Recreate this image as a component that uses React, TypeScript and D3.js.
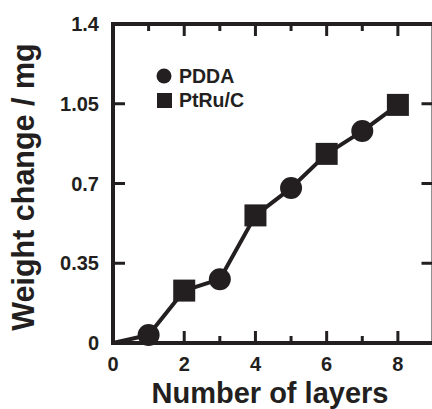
import React, { useEffect, useRef } from 'react';
import * as d3 from 'd3';

// data
const layers = [0, 1, 2, 3, 4, 5, 6, 7, 8];
const weightChange = [0, 0.035, 0.23, 0.28, 0.56, 0.68, 0.83, 0.93, 1.045];
const pddaLayers = [1, 3, 5, 7];
const ptruLayers = [2, 4, 6, 8];

const xMajorTicks = [2, 4, 6, 8];
const xMinorTicks = [1, 3, 5, 7];
const xTickLabels = ['0', '2', '4', '6', '8'];
const yTicks = [0.35, 0.7, 1.05];
const yTickLabels = ['0', '0.35', '0.7', '1.05', '1.4'];

const W = 432;
const H = 409;
const INK = '#231f20';
const FONT = '"Liberation Sans", Arial, sans-serif';

const App = () => {
  const svgRef = useRef<SVGSVGElement>(null);

  useEffect(() => {
    const svg = d3.select(svgRef.current);
    svg.selectAll('*').remove();

    const x = d3.scaleLinear().domain([0, 9]).range([113, 433.5]);
    const y = d3.scaleLinear().domain([0, 1.4]).range([343, 24]);

    const pts = layers.map((l, i) => ({ l, w: weightChange[i] }));
    const valueAt = (l) => weightChange[layers.indexOf(l)];

    // frame
    const frame = svg.append('g').attr('stroke', INK).attr('stroke-width', 4).attr('fill', 'none');
    frame.append('rect')
      .attr('x', x(0)).attr('y', y(1.4))
      .attr('width', x(9) - x(0)).attr('height', y(0) - y(1.4));

    // ticks, all pointing inward
    const ticks = svg.append('g').attr('stroke', INK).attr('stroke-width', 3);
    const xt = [
      ...xMajorTicks.map(v => ({ v, len: 12 })),
      ...xMinorTicks.map(v => ({ v, len: 7 })),
    ];
    ticks.selectAll('.xb').data(xt).enter().append('line')
      .attr('x1', d => x(d.v)).attr('x2', d => x(d.v))
      .attr('y1', y(0)).attr('y2', d => y(0) - d.len);
    ticks.selectAll('.xt').data(xt).enter().append('line')
      .attr('x1', d => x(d.v)).attr('x2', d => x(d.v))
      .attr('y1', y(1.4)).attr('y2', d => y(1.4) + d.len);
    ticks.selectAll('.yl').data(yTicks).enter().append('line')
      .attr('x1', x(0)).attr('x2', x(0) + 12)
      .attr('y1', d => y(d)).attr('y2', d => y(d));
    ticks.selectAll('.yr').data(yTicks).enter().append('line')
      .attr('x1', x(9)).attr('x2', x(9) - 12)
      .attr('y1', d => y(d)).attr('y2', d => y(d));

    // tick labels
    const labels = svg.append('g')
      .attr('font-family', FONT).attr('font-weight', 'bold').attr('font-size', 20).attr('fill', INK);
    labels.selectAll('.xl').data(xTickLabels).enter().append('text')
      .attr('x', d => x(+d)).attr('y', 371)
      .attr('text-anchor', 'middle')
      .text(d => d);
    labels.selectAll('.yl').data(yTickLabels).enter().append('text')
      .attr('x', 99).attr('y', d => y(+d) + 7)
      .attr('text-anchor', 'end')
      .text(d => d);

    // axis titles
    svg.append('text')
      .attr('x', 270).attr('y', 403)
      .attr('text-anchor', 'middle')
      .attr('font-family', FONT).attr('font-weight', 'bold').attr('font-size', 29).attr('fill', INK)
      .text('Number of layers');
    svg.append('text')
      .attr('transform', 'translate(34,187) rotate(-90)')
      .attr('text-anchor', 'middle')
      .attr('font-family', FONT).attr('font-weight', 'bold').attr('font-size', 30.5).attr('fill', INK)
      .text('Weight change / mg');

    // the connecting line
    const line = d3.line<{ l: number; w: number }>()
      .x(d => x(d.l))
      .y(d => y(d.w));
    svg.append('path')
      .datum(pts)
      .attr('d', line)
      .attr('fill', 'none')
      .attr('stroke', INK)
      .attr('stroke-width', 4)
      .attr('stroke-linejoin', 'round');

    // markers
    svg.selectAll('.pdda').data(pddaLayers).enter().append('circle')
      .attr('cx', d => x(d)).attr('cy', d => y(valueAt(d)))
      .attr('r', 11)
      .attr('fill', INK);
    const side = 22;
    svg.selectAll('.ptru').data(ptruLayers).enter().append('rect')
      .attr('x', d => x(d) - side / 2).attr('y', d => y(valueAt(d)) - side / 2)
      .attr('width', side).attr('height', side)
      .attr('fill', INK);

    // legend
    const legend = svg.append('g')
      .attr('font-family', FONT).attr('font-weight', 'bold').attr('font-size', 19.5).attr('fill', INK);
    legend.append('circle').attr('cx', 164).attr('cy', 76).attr('r', 7.5);
    legend.append('text').attr('x', 179).attr('y', 83).text('PDDA');
    legend.append('rect').attr('x', 157).attr('y', 93).attr('width', 15).attr('height', 15);
    legend.append('text').attr('x', 179).attr('y', 107).text('PtRu/C');
  }, []);

  return (
    <svg
      ref={svgRef}
      width={W}
      height={H}
      style={{ position: 'absolute', left: 0, top: 0, background: '#fff' }}
    ></svg>
  );
};

export default App;
